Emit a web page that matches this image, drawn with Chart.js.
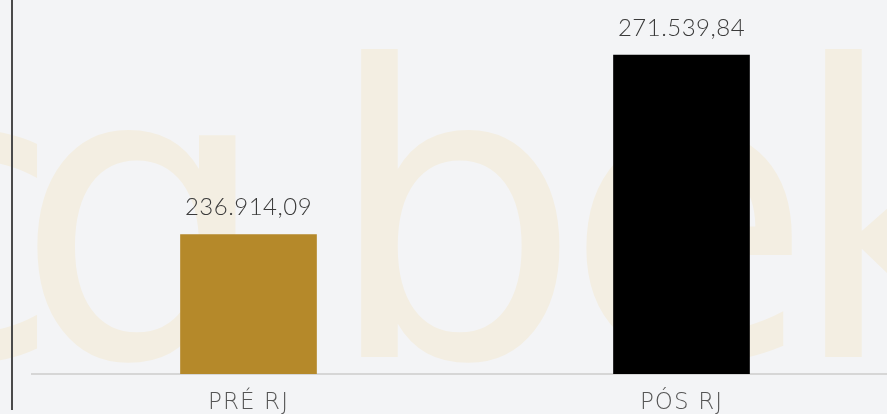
<!DOCTYPE html>
<html>
<head>
<meta charset="utf-8">
<script src="https://cdn.jsdelivr.net/npm/chart.js@4/dist/chart.umd.min.js"></script>
<style>
  html, body { margin: 0; padding: 0; background: #f3f4f6; overflow: hidden; }
  #wrap { position: relative; width: 887px; height: 414px; overflow: hidden; }
  #vline { position: absolute; left: 11px; top: 0; width: 2px; height: 410px; background: #4a4a4a; z-index: 2; }
  canvas { position: absolute; left: 0; top: 0; }
</style>
</head>
<body>
<div id="wrap">
  <canvas id="c" width="900" height="414"></canvas>
  <div id="vline"></div>
</div>
<script>
const categories = ['PRÉ RJ', 'PÓS RJ'];
const values = [236914.09, 271539.84];
const barColors = ['#b5892a', '#000000'];
const yMin = 210000;
const yMax = 282150;

function fmtBR(v) {
  const parts = v.toFixed(2).split('.');
  const intPart = parts[0].replace(/\B(?=(\d{3})+(?!\d))/g, '.');
  return intPart + ',' + parts[1];
}

const watermarkPlugin = {
  id: 'watermark',
  beforeDraw(chart) {
    const ctx = chart.ctx;
    ctx.save();
    ctx.font = '100px "DejaVu Sans"';
    const asc = ctx.measureText('b').actualBoundingBoxAscent;
    const size = 100 * 308 / asc;
    ctx.font = size + 'px "DejaVu Sans"';
    ctx.fillStyle = '#f3eee2';
    ctx.textAlign = 'left';
    ctx.textBaseline = 'alphabetic';
    const base = 357;
    const glyphs = [
      { ch: 'c', right: 42 },
      { ch: '\u0251', left: 34 },
      { ch: 'b', left: 356 },
      { ch: 'e', left: 583 },
      { ch: 'k', left: 820 }
    ];
    glyphs.forEach(g => {
      const m = ctx.measureText(g.ch);
      let x;
      if (g.right !== undefined) x = g.right - m.actualBoundingBoxRight;
      else x = g.left + m.actualBoundingBoxLeft;
      ctx.fillText(g.ch, x, base);
    });
    ctx.restore();
    ctx.letterSpacing = '1.1px';
  },
  afterDraw(chart) {
    chart.ctx.letterSpacing = '0px';
  }
};

const valueLabelPlugin = {
  id: 'valueLabels',
  afterDatasetsDraw(chart) {
    const ctx = chart.ctx;
    ctx.save();
    ctx.letterSpacing = '0.5px';
    ctx.font = '300 24px Lato';
    ctx.fillStyle = '#3a3a3a';
    ctx.textAlign = 'center';
    ctx.textBaseline = 'alphabetic';
    const meta = chart.getDatasetMeta(0);
    meta.data.forEach((bar, i) => {
      ctx.fillText(fmtBR(values[i]), bar.x, bar.y - 19);
    });
    ctx.restore();
  }
};

new Chart(document.getElementById('c'), {
  type: 'bar',
  data: {
    labels: categories,
    datasets: [{
      data: values,
      backgroundColor: barColors,
      borderWidth: 0,
      barThickness: 136
    }]
  },
  options: {
    responsive: false,
    animation: false,
    layout: { padding: { left: 32, right: 2, top: 0, bottom: 0 } },
    plugins: { legend: { display: false }, tooltip: { enabled: false } },
    scales: {
      y: { display: false, min: yMin, max: yMax },
      x: {
        grid: { display: false, drawTicks: false },
        border: { display: true, color: '#d6d6d6', width: 2 },
        ticks: { color: '#555555', font: { family: 'DejaVu Sans', size: 23, weight: 200 }, padding: 15 },
        afterFit(scale) { scale.height = 40; }
      }
    }
  },
  plugins: [watermarkPlugin, valueLabelPlugin]
});
</script>
</body>
</html>
